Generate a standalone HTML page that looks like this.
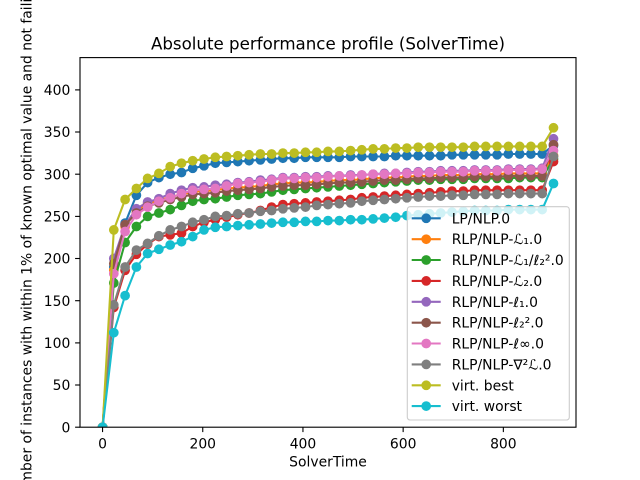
<!DOCTYPE html>
<html>
<head>
<meta charset="utf-8">
<style>
html,body{margin:0;padding:0;background:#fff;}
svg{display:block;}
text{font-family:"DejaVu Sans","Liberation Sans",sans-serif;fill:#000;}
</style>
</head>
<body>
<svg width="640" height="480" viewBox="0 0 640 480" xmlns="http://www.w3.org/2000/svg">
<defs>
<clipPath id="ax"><rect x="80" y="57.6" width="496" height="369.6"/></clipPath>
<marker id="m0" markerUnits="userSpaceOnUse" markerWidth="12" markerHeight="12" refX="6" refY="6" viewBox="0 0 12 12" overflow="visible"><circle cx="6" cy="6" r="4.17" fill="#1f77b4" stroke="#1f77b4" stroke-width="1.39"/></marker>
<marker id="m1" markerUnits="userSpaceOnUse" markerWidth="12" markerHeight="12" refX="6" refY="6" viewBox="0 0 12 12" overflow="visible"><circle cx="6" cy="6" r="4.17" fill="#ff7f0e" stroke="#ff7f0e" stroke-width="1.39"/></marker>
<marker id="m2" markerUnits="userSpaceOnUse" markerWidth="12" markerHeight="12" refX="6" refY="6" viewBox="0 0 12 12" overflow="visible"><circle cx="6" cy="6" r="4.17" fill="#2ca02c" stroke="#2ca02c" stroke-width="1.39"/></marker>
<marker id="m3" markerUnits="userSpaceOnUse" markerWidth="12" markerHeight="12" refX="6" refY="6" viewBox="0 0 12 12" overflow="visible"><circle cx="6" cy="6" r="4.17" fill="#d62728" stroke="#d62728" stroke-width="1.39"/></marker>
<marker id="m4" markerUnits="userSpaceOnUse" markerWidth="12" markerHeight="12" refX="6" refY="6" viewBox="0 0 12 12" overflow="visible"><circle cx="6" cy="6" r="4.17" fill="#9467bd" stroke="#9467bd" stroke-width="1.39"/></marker>
<marker id="m5" markerUnits="userSpaceOnUse" markerWidth="12" markerHeight="12" refX="6" refY="6" viewBox="0 0 12 12" overflow="visible"><circle cx="6" cy="6" r="4.17" fill="#8c564b" stroke="#8c564b" stroke-width="1.39"/></marker>
<marker id="m6" markerUnits="userSpaceOnUse" markerWidth="12" markerHeight="12" refX="6" refY="6" viewBox="0 0 12 12" overflow="visible"><circle cx="6" cy="6" r="4.17" fill="#e377c2" stroke="#e377c2" stroke-width="1.39"/></marker>
<marker id="m7" markerUnits="userSpaceOnUse" markerWidth="12" markerHeight="12" refX="6" refY="6" viewBox="0 0 12 12" overflow="visible"><circle cx="6" cy="6" r="4.17" fill="#7f7f7f" stroke="#7f7f7f" stroke-width="1.39"/></marker>
<marker id="m8" markerUnits="userSpaceOnUse" markerWidth="12" markerHeight="12" refX="6" refY="6" viewBox="0 0 12 12" overflow="visible"><circle cx="6" cy="6" r="4.17" fill="#bcbd22" stroke="#bcbd22" stroke-width="1.39"/></marker>
<marker id="m9" markerUnits="userSpaceOnUse" markerWidth="12" markerHeight="12" refX="6" refY="6" viewBox="0 0 12 12" overflow="visible"><circle cx="6" cy="6" r="4.17" fill="#17becf" stroke="#17becf" stroke-width="1.39"/></marker>
</defs>

<rect x="0" y="0" width="640" height="480" fill="#fff"/>

<g clip-path="url(#ax)" fill="none" stroke-width="2.08" stroke-linejoin="round" stroke-linecap="square">
<polyline stroke="#1f77b4" marker-start="url(#m0)" marker-mid="url(#m0)" marker-end="url(#m0)" points="102.6,427.2 113.8,267.0 125.1,223.1 136.4,195.3 147.6,182.6 158.9,177.6 170.2,174.2 181.5,172.5 192.7,168.3 204.0,165.8 215.3,163.2 226.6,162.4 237.8,161.6 249.1,160.7 260.4,159.9 271.6,159.0 282.9,158.2 294.2,158.2 305.5,157.3 316.7,157.3 328.0,157.3 339.3,157.3 350.6,156.5 361.8,156.5 373.1,156.5 384.4,156.5 395.7,155.7 406.9,155.7 418.2,155.7 429.5,155.7 440.7,155.7 452.0,154.8 463.3,154.8 474.6,154.8 485.8,154.8 497.1,154.8 508.4,154.0 519.7,154.0 530.9,154.0 542.2,154.0 553.5,145.5"/>
<polyline stroke="#ff7f0e" marker-start="url(#m1)" marker-mid="url(#m1)" marker-end="url(#m1)" points="102.6,427.2 113.8,270.3 125.1,226.5 136.4,210.5 147.6,203.7 158.9,200.3 170.2,197.0 181.5,194.4 192.7,191.9 204.0,191.1 215.3,190.2 226.6,188.5 237.8,187.7 249.1,186.9 260.4,186.0 271.6,184.3 282.9,183.5 294.2,182.6 305.5,182.6 316.7,181.8 328.0,181.0 339.3,180.1 350.6,180.1 361.8,179.3 373.1,178.4 384.4,177.6 395.7,177.6 406.9,176.7 418.2,175.9 429.5,175.9 440.7,175.0 452.0,175.0 463.3,175.0 474.6,174.2 485.8,174.2 497.1,174.2 508.4,173.4 519.7,173.4 530.9,173.4 542.2,173.4 553.5,155.7"/>
<polyline stroke="#2ca02c" marker-start="url(#m2)" marker-mid="url(#m2)" marker-end="url(#m2)" points="102.6,427.2 113.8,283.0 125.1,242.5 136.4,226.5 147.6,216.4 158.9,213.0 170.2,209.6 181.5,205.4 192.7,201.2 204.0,199.5 215.3,198.7 226.6,197.0 237.8,195.3 249.1,194.4 260.4,193.6 271.6,191.9 282.9,190.2 294.2,189.4 305.5,188.5 316.7,187.7 328.0,186.9 339.3,186.0 350.6,185.2 361.8,184.3 373.1,183.5 384.4,182.6 395.7,181.8 406.9,181.0 418.2,180.1 429.5,180.1 440.7,179.3 452.0,179.3 463.3,179.3 474.6,178.4 485.8,178.4 497.1,178.4 508.4,178.4 519.7,177.6 530.9,177.6 542.2,177.6 553.5,159.0"/>
<polyline stroke="#d62728" marker-start="url(#m3)" marker-mid="url(#m3)" marker-end="url(#m3)" points="102.6,427.2 113.8,307.4 125.1,270.3 136.4,254.3 147.6,244.2 158.9,236.6 170.2,234.9 181.5,233.2 192.7,226.5 204.0,222.3 215.3,219.7 226.6,217.2 237.8,214.7 249.1,213.0 260.4,210.5 271.6,207.1 282.9,204.6 294.2,203.7 305.5,202.9 316.7,202.0 328.0,201.2 339.3,200.3 350.6,199.5 361.8,197.8 373.1,197.0 384.4,196.1 395.7,195.3 406.9,194.4 418.2,193.6 429.5,192.8 440.7,191.9 452.0,191.1 463.3,191.1 474.6,190.2 485.8,190.2 497.1,190.2 508.4,190.2 519.7,190.2 530.9,190.2 542.2,190.2 553.5,161.6"/>
<polyline stroke="#9467bd" marker-start="url(#m4)" marker-mid="url(#m4)" marker-end="url(#m4)" points="102.6,427.2 113.8,258.5 125.1,224.8 136.4,208.8 147.6,202.0 158.9,198.7 170.2,193.6 181.5,190.2 192.7,187.7 204.0,186.9 215.3,185.2 226.6,184.3 237.8,182.6 249.1,181.8 260.4,180.1 271.6,179.3 282.9,177.6 294.2,177.6 305.5,176.7 316.7,176.7 328.0,175.9 339.3,175.9 350.6,175.0 361.8,175.0 373.1,174.2 384.4,173.4 395.7,173.4 406.9,172.5 418.2,171.7 429.5,171.7 440.7,170.8 452.0,170.8 463.3,170.8 474.6,170.0 485.8,170.0 497.1,170.0 508.4,169.1 519.7,169.1 530.9,169.1 542.2,168.3 553.5,138.8"/>
<polyline stroke="#8c564b" marker-start="url(#m5)" marker-mid="url(#m5)" marker-end="url(#m5)" points="102.6,427.2 113.8,263.6 125.1,224.8 136.4,213.0 147.6,206.2 158.9,202.9 170.2,199.5 181.5,197.0 192.7,194.4 204.0,193.6 215.3,192.8 226.6,191.1 237.8,190.2 249.1,189.4 260.4,188.5 271.6,186.9 282.9,186.0 294.2,185.2 305.5,185.2 316.7,184.3 328.0,183.5 339.3,182.6 350.6,182.6 361.8,181.8 373.1,181.0 384.4,180.1 395.7,180.1 406.9,179.3 418.2,178.4 429.5,178.4 440.7,177.6 452.0,177.6 463.3,177.6 474.6,176.7 485.8,176.7 497.1,176.7 508.4,175.9 519.7,175.9 530.9,175.9 542.2,175.9 553.5,144.7"/>
<polyline stroke="#e377c2" marker-start="url(#m6)" marker-mid="url(#m6)" marker-end="url(#m6)" points="102.6,427.2 113.8,273.7 125.1,231.5 136.4,214.7 147.6,207.1 158.9,201.2 170.2,197.8 181.5,193.6 192.7,190.2 204.0,189.4 215.3,188.5 226.6,186.0 237.8,183.5 249.1,182.6 260.4,181.8 271.6,180.1 282.9,178.4 294.2,178.4 305.5,177.6 316.7,177.6 328.0,176.7 339.3,175.9 350.6,175.9 361.8,175.0 373.1,174.2 384.4,174.2 395.7,173.4 406.9,173.4 418.2,172.5 429.5,172.5 440.7,171.7 452.0,171.7 463.3,171.7 474.6,170.8 485.8,170.8 497.1,170.8 508.4,170.0 519.7,170.0 530.9,170.0 542.2,169.1 553.5,150.6"/>
<polyline stroke="#7f7f7f" marker-start="url(#m7)" marker-mid="url(#m7)" marker-end="url(#m7)" points="102.6,427.2 113.8,304.9 125.1,267.0 136.4,250.1 147.6,243.4 158.9,235.8 170.2,229.9 181.5,226.5 192.7,222.3 204.0,219.7 215.3,216.4 226.6,215.6 237.8,213.8 249.1,213.0 260.4,211.3 271.6,210.5 282.9,208.8 294.2,207.9 305.5,207.1 316.7,205.4 328.0,204.6 339.3,203.7 350.6,202.9 361.8,201.2 373.1,200.3 384.4,199.5 395.7,198.7 406.9,197.8 418.2,197.0 429.5,196.1 440.7,196.1 452.0,195.3 463.3,195.3 474.6,194.4 485.8,194.4 497.1,194.4 508.4,193.6 519.7,193.6 530.9,193.6 542.2,193.6 553.5,156.5"/>
<polyline stroke="#bcbd22" marker-start="url(#m8)" marker-mid="url(#m8)" marker-end="url(#m8)" points="102.6,427.2 113.8,229.9 125.1,199.5 136.4,188.5 147.6,178.4 158.9,173.4 170.2,166.6 181.5,163.2 192.7,160.7 204.0,159.0 215.3,157.3 226.6,156.5 237.8,155.7 249.1,154.8 260.4,154.0 271.6,154.0 282.9,153.1 294.2,153.1 305.5,152.3 316.7,152.3 328.0,151.4 339.3,151.4 350.6,150.6 361.8,149.8 373.1,148.9 384.4,148.9 395.7,148.1 406.9,148.1 418.2,147.2 429.5,147.2 440.7,147.2 452.0,147.2 463.3,147.2 474.6,146.4 485.8,146.4 497.1,146.4 508.4,146.4 519.7,146.4 530.9,146.4 542.2,146.4 553.5,127.8"/>
<polyline stroke="#17becf" marker-start="url(#m9)" marker-mid="url(#m9)" marker-end="url(#m9)" points="102.6,427.2 113.8,332.7 125.1,295.6 136.4,267.0 147.6,253.5 158.9,249.3 170.2,245.0 181.5,241.7 192.7,236.6 204.0,229.9 215.3,227.3 226.6,226.5 237.8,225.6 249.1,224.8 260.4,224.0 271.6,223.1 282.9,222.3 294.2,222.3 305.5,221.4 316.7,221.4 328.0,220.6 339.3,220.6 350.6,219.7 361.8,219.7 373.1,218.9 384.4,218.1 395.7,217.2 406.9,215.6 418.2,214.7 429.5,213.8 440.7,213.0 452.0,212.1 463.3,211.3 474.6,210.5 485.8,210.5 497.1,210.5 508.4,209.6 519.7,209.6 530.9,209.6 542.2,209.6 553.5,183.5"/>
</g>

<!-- axes frame -->
<rect x="80" y="57.6" width="496" height="369.6" fill="none" stroke="#000" stroke-width="1.11"/>

<!-- x ticks -->
<g stroke="#000" stroke-width="1.11">
<line x1="102.55" y1="427.2" x2="102.55" y2="432.1"/>
<line x1="202.75" y1="427.2" x2="202.75" y2="432.1"/>
<line x1="302.95" y1="427.2" x2="302.95" y2="432.1"/>
<line x1="403.15" y1="427.2" x2="403.15" y2="432.1"/>
<line x1="503.35" y1="427.2" x2="503.35" y2="432.1"/>
</g>
<g font-size="13.9" text-anchor="middle">
<text x="102.55" y="448.3">0</text>
<text x="202.75" y="448.3">200</text>
<text x="302.95" y="448.3">400</text>
<text x="403.15" y="448.3">600</text>
<text x="503.35" y="448.3">800</text>
</g>

<!-- y ticks -->
<g stroke="#000" stroke-width="1.11">
<line x1="75.1" y1="427.2" x2="80" y2="427.2"/>
<line x1="75.1" y1="385.0" x2="80" y2="385.0"/>
<line x1="75.1" y1="342.9" x2="80" y2="342.9"/>
<line x1="75.1" y1="300.7" x2="80" y2="300.7"/>
<line x1="75.1" y1="258.5" x2="80" y2="258.5"/>
<line x1="75.1" y1="216.4" x2="80" y2="216.4"/>
<line x1="75.1" y1="174.2" x2="80" y2="174.2"/>
<line x1="75.1" y1="132.0" x2="80" y2="132.0"/>
<line x1="75.1" y1="89.9" x2="80" y2="89.9"/>
</g>
<g font-size="13.9" text-anchor="end">
<text x="70.3" y="432.3">0</text>
<text x="70.3" y="390.1">50</text>
<text x="70.3" y="348.0">100</text>
<text x="70.3" y="305.8">150</text>
<text x="70.3" y="263.6">200</text>
<text x="70.3" y="221.5">250</text>
<text x="70.3" y="179.3">300</text>
<text x="70.3" y="137.1">350</text>
<text x="70.3" y="95.0">400</text>
</g>

<!-- labels -->
<text x="328" y="466.5" font-size="13.9" text-anchor="middle">SolverTime</text>
<text transform="translate(31.5,242.4) rotate(-90)" x="0" y="0" font-size="13.9" text-anchor="middle">Number of instances with within 1% of known optimal value and not failing</text>
<text x="328" y="49.3" font-size="16.67" text-anchor="middle">Absolute performance profile (SolverTime)</text>

<!-- legend -->
<rect x="407.3" y="206.7" width="162" height="213.3" rx="2.8" ry="2.8" fill="#fff" fill-opacity="0.8" stroke="#cccccc" stroke-width="1.11"/>
<g stroke-width="2.08">
<line x1="411.7" y1="218.3" x2="440.7" y2="218.3" stroke="#1f77b4"/>
<line x1="411.7" y1="239.2" x2="440.7" y2="239.2" stroke="#ff7f0e"/>
<line x1="411.7" y1="260.0" x2="440.7" y2="260.0" stroke="#2ca02c"/>
<line x1="411.7" y1="280.9" x2="440.7" y2="280.9" stroke="#d62728"/>
<line x1="411.7" y1="301.8" x2="440.7" y2="301.8" stroke="#9467bd"/>
<line x1="411.7" y1="322.7" x2="440.7" y2="322.7" stroke="#8c564b"/>
<line x1="411.7" y1="343.5" x2="440.7" y2="343.5" stroke="#e377c2"/>
<line x1="411.7" y1="364.4" x2="440.7" y2="364.4" stroke="#7f7f7f"/>
<line x1="411.7" y1="385.3" x2="440.7" y2="385.3" stroke="#bcbd22"/>
<line x1="411.7" y1="406.1" x2="440.7" y2="406.1" stroke="#17becf"/>
</g>
<g stroke-width="1.39">
<circle cx="426.2" cy="218.3" r="4.17" fill="#1f77b4" stroke="#1f77b4"/>
<circle cx="426.2" cy="239.2" r="4.17" fill="#ff7f0e" stroke="#ff7f0e"/>
<circle cx="426.2" cy="260.0" r="4.17" fill="#2ca02c" stroke="#2ca02c"/>
<circle cx="426.2" cy="280.9" r="4.17" fill="#d62728" stroke="#d62728"/>
<circle cx="426.2" cy="301.8" r="4.17" fill="#9467bd" stroke="#9467bd"/>
<circle cx="426.2" cy="322.7" r="4.17" fill="#8c564b" stroke="#8c564b"/>
<circle cx="426.2" cy="343.5" r="4.17" fill="#e377c2" stroke="#e377c2"/>
<circle cx="426.2" cy="364.4" r="4.17" fill="#7f7f7f" stroke="#7f7f7f"/>
<circle cx="426.2" cy="385.3" r="4.17" fill="#bcbd22" stroke="#bcbd22"/>
<circle cx="426.2" cy="406.1" r="4.17" fill="#17becf" stroke="#17becf"/>
</g>
<g font-size="13.9">
<text x="451.7" y="223.3">LP/NLP.0</text>
<text x="451.7" y="244.2">RLP/NLP-ℒ₁.0</text>
<text x="451.7" y="265.0">RLP/NLP-ℒ₁/ℓ₂².0</text>
<text x="451.7" y="285.9">RLP/NLP-ℒ₂.0</text>
<text x="451.7" y="306.8">RLP/NLP-ℓ₁.0</text>
<text x="451.7" y="327.7">RLP/NLP-ℓ₂².0</text>
<text x="451.7" y="348.5">RLP/NLP-ℓ∞.0</text>
<text x="451.7" y="369.4">RLP/NLP-∇²ℒ.0</text>
<text x="451.7" y="390.3">virt. best</text>
<text x="451.7" y="411.1">virt. worst</text>
</g>
</svg>
</body>
</html>
